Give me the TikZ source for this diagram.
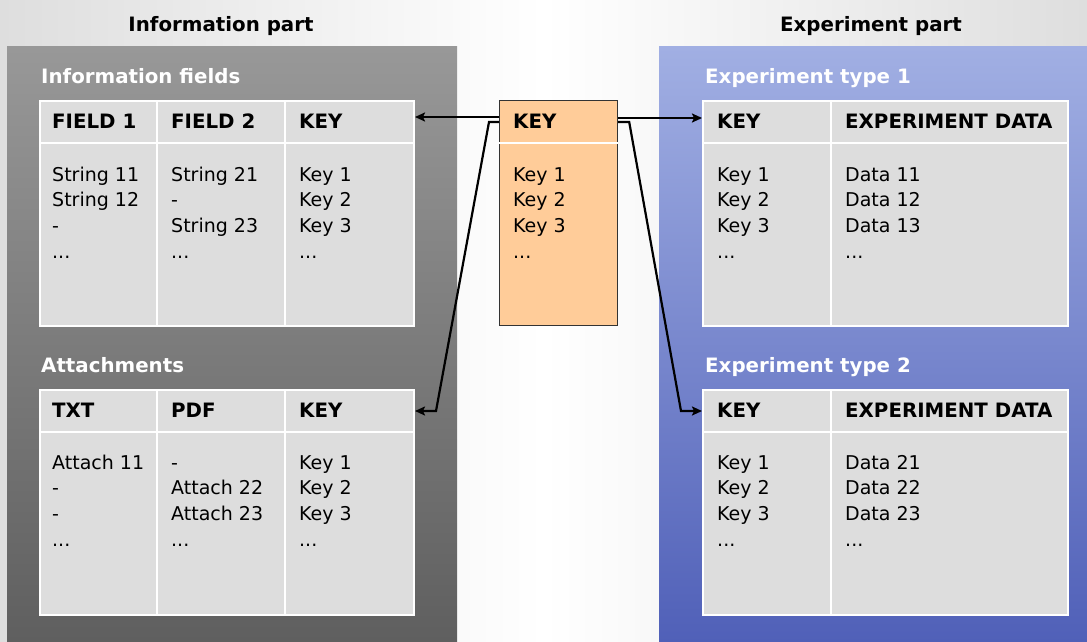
\documentclass[tikz,border=0pt]{standalone}
\usepackage{fontspec}
\setmainfont{DejaVu Sans}
\usetikzlibrary{arrows.meta,calc}

\definecolor{bgside}{RGB}{222,222,222}
\definecolor{infotop}{RGB}{152,152,152}
\definecolor{infobot}{RGB}{95,95,95}
\definecolor{exptop}{RGB}{161,175,227}
\definecolor{expbot}{RGB}{80,96,184}
\definecolor{cellgray}{RGB}{221,221,221}
\definecolor{keyfill}{RGB}{255,204,153}
\definecolor{keyline}{RGB}{51,51,51}

\newcommand\basefont{\fontsize{19}{23}\selectfont}
\newcommand\boldfont{\fontsize{19.8}{23}\selectfont\bfseries}
% trailing "more rows" mark, kept as a macro so \foreach does not read it as a range
\newcommand\morerows{...}

% one column of body entries: name, x, first baseline, entries
\newcommand\cellcol[4]{%
  \foreach \t [count=\i] in {#4}
    \node[celltext] (#1-\i) at (#2,{#3+25.7*(\i-1)}) {\t};}

% white grid of a table: table name, column offsets
\newcommand\tablegrid[2]{%
  \draw[gridrule] ([yshift=-43pt]#1.north west) -- ([yshift=-43pt]#1.north east);
  \foreach \c in {#2}
    \draw[gridrule] ([xshift=\c pt]#1.north west) -- ([xshift=\c pt]#1.south west);}

\begin{document}
\begin{tikzpicture}[x=1pt,y=-1pt,
  celltext/.style={anchor=base west, inner sep=0pt, font=\basefont},
  headtext/.style={anchor=base west, inner sep=0pt, font=\boldfont},
  secttext/.style={anchor=base west, inner sep=0pt, text=white, font=\boldfont},
  titletext/.style={anchor=base, inner sep=0pt, font=\boldfont},
  datatable/.style={anchor=north west, fill=cellgray, draw=white, line width=2pt,
    inner sep=0pt, minimum height=225pt},
  gridrule/.style={draw=white, line width=2pt},
  link/.style={draw=black, line width=2.2pt, line join=miter,
    -{Stealth[length=10pt,width=9pt,inset=2pt]}}]

\useasboundingbox (0,0) rectangle (1087,642);

% backdrop and the two panels
\shade[left color=bgside, right color=bgside, middle color=white] (0,0) rectangle (1087,642);
\shade[top color=infotop, bottom color=infobot] (7,47) rectangle (457,642);
\shade[top color=exptop, bottom color=expbot] (659,47) rectangle (1087,642);

% headings
\node[titletext] (infopart) at (221,32) {Information part};
\node[titletext] (exppart) at (871,32) {Experiment part};
\node[secttext] (fieldslabel) at (41,83) {Information fields};
\node[secttext] (attlabel) at (41,372) {Attachments};
\node[secttext] (exp1label) at (705,83) {Experiment type 1};
\node[secttext] (exp2label) at (705,372) {Experiment type 2};

% tables
\node[datatable, minimum width=374pt] (info) at (39,100) {};
\tablegrid{info}{118,246}
\node[datatable, minimum width=374pt] (att) at (39,389) {};
\tablegrid{att}{118,246}
\node[datatable, minimum width=365pt] (exp1) at (702,100) {};
\tablegrid{exp1}{129}
\node[datatable, minimum width=365pt] (exp2) at (702,389) {};
\tablegrid{exp2}{129}
\node[anchor=north west, fill=keyfill, draw=keyline, line width=1.2pt, inner sep=0pt,
  minimum width=118pt, minimum height=225pt] (key) at (499,100) {};
\draw[white, line width=1.5pt] ([yshift=-43pt]key.north west) -- ([yshift=-43pt]key.north east);

% information fields
\node[headtext] (infoh1) at (52,128) {FIELD 1};
\node[headtext] (infoh2) at (171,128) {FIELD 2};
\node[headtext] (infoh3) at (299,128) {KEY};
\cellcol{infoa}{52}{181}{String 11,String 12,-,\morerows}
\cellcol{infob}{171}{181}{String 21,-,String 23,\morerows}
\cellcol{infoc}{299}{181}{Key 1,Key 2,Key 3,\morerows}

% attachments
\node[headtext] (atth1) at (52,417) {TXT};
\node[headtext] (atth2) at (171,417) {PDF};
\node[headtext] (atth3) at (299,417) {KEY};
\cellcol{atta}{52}{469}{Attach 11,-,-,\morerows}
\cellcol{attb}{171}{469}{-,Attach 22,Attach 23,\morerows}
\cellcol{attc}{299}{469}{Key 1,Key 2,Key 3,\morerows}

% central key table
\node[headtext] (keyh) at (513,128) {KEY};
\cellcol{keya}{513}{181}{Key 1,Key 2,Key 3,\morerows}

% experiment type 1
\node[headtext] (exp1h1) at (717,128) {KEY};
\node[headtext] (exp1h2) at (845,128) {EXPERIMENT DATA};
\cellcol{exp1a}{717}{181}{Key 1,Key 2,Key 3,\morerows}
\cellcol{exp1b}{845}{181}{Data 11,Data 12,Data 13,\morerows}

% experiment type 2
\node[headtext] (exp2h1) at (717,417) {KEY};
\node[headtext] (exp2h2) at (845,417) {EXPERIMENT DATA};
\cellcol{exp2a}{717}{469}{Key 1,Key 2,Key 3,\morerows}
\cellcol{exp2b}{845}{469}{Data 21,Data 22,Data 23,\morerows}

% key links
\draw[link] ([yshift=-17pt]key.north west) -- ([yshift=-17pt]info.north east);
\draw[link] ([yshift=-18pt]key.north east) -- ([yshift=-18pt]exp1.north west);
\draw[link] ([yshift=-22pt]key.north west) -- ++(-10,0)
  -- ([xshift=21pt,yshift=-22pt]att.north east) -- ([yshift=-22pt]att.north east);
\draw[link] ([yshift=-22pt]key.north east) -- ++(11,0)
  -- ([xshift=-21pt,yshift=-22pt]exp2.north west) -- ([yshift=-22pt]exp2.north west);
\end{tikzpicture}
\end{document}
